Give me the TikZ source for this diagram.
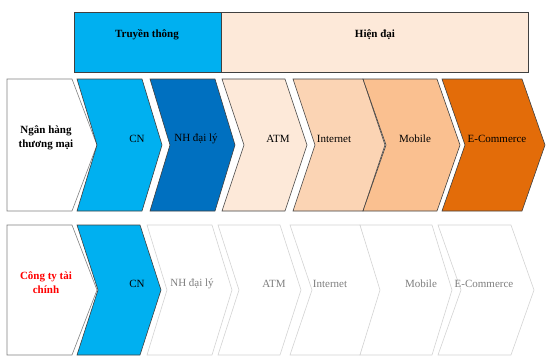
\documentclass[tikz,border=0pt]{standalone}
\usepackage{fontspec}
\setmainfont{Liberation Serif}
\definecolor{cyanb}{HTML}{00B0F0}
\definecolor{darkb}{HTML}{0070C0}
\definecolor{peach1}{HTML}{FDE9D9}
\definecolor{peach2}{HTML}{FBD4B4}
\definecolor{peach3}{HTML}{FAC090}
\definecolor{orng}{HTML}{E36C09}
\definecolor{edge}{HTML}{404040}
\definecolor{lightedge}{HTML}{D4D4D4}
\definecolor{greytxt}{HTML}{7F7F7F}
\definecolor{redtxt}{HTML}{FF0000}
\newcommand\drawchev[6]{%
  \filldraw[#1] (#2,#5) -- (#3,#5) -- ({#3+#4},{(#5+#6)/2}) -- (#3,#6) -- (#2,#6) -- ({#2+#4},{(#5+#6)/2}) -- cycle;}
\newcommand\drawpent[6]{%
  \filldraw[#1] (#2,#5) -- (#3,#5) -- ({#3+#4},{(#5+#6)/2}) -- (#3,#6) -- (#2,#6) -- cycle;}
\tikzset{
  shp/.style={draw=edge, line width=0.6pt, line join=miter},
  lshp/.style={draw=lightedge, fill=white, line width=0.6pt},
  lbl/.style={font=\fontsize{11}{13}\selectfont, text=black, inner sep=0pt},
  glbl/.style={lbl, text=greytxt},
  blbl/.style={font=\fontsize{11}{14}\selectfont\bfseries, align=center, inner sep=0pt}
}
\begin{document}
\begin{tikzpicture}[x=1pt,y=-1pt]
\useasboundingbox[fill=white] (0,0) rectangle (550,364);
% header
\filldraw[shp, fill=cyanb] (74,12) rectangle (221,72);
\filldraw[shp, fill=peach1] (221,12) rectangle (528,72);
\node[blbl] (trad) at (147,35) {Truyền thông};
\node[blbl] (mod) at (375,35) {Hiện đại};
% row 1
\drawpent{shp, fill=white, draw=gray}{7}{72}{25}{79}{211}
\drawchev{shp, fill=cyanb}{77}{142}{20}{79}{211}
\drawchev{shp, fill=darkb}{150}{215}{20}{79}{211}
\drawchev{shp, fill=peach1}{222}{285}{22}{79}{211}
\drawchev{shp, fill=peach2}{293}{363}{22}{79}{211}
\drawchev{shp, fill=peach3}{363}{437}{23}{79}{211}
\drawchev{shp, fill=orng}{442}{522}{23}{79}{211}
\node[blbl] (bank) at (46,138) {Ngân hàng\\thương mại};
\node[lbl] (cn1) at (137,139) {CN};
\node[lbl] (nh1) at (196,139) {NH đại lý};
\node[lbl] (atm1) at (278,139) {ATM};
\node[lbl] (int1) at (334,139) {Internet};
\node[lbl] (mob1) at (415,139) {Mobile};
\node[lbl] (ec1) at (497,139) {E-Commerce};
% row 2
\drawpent{shp, fill=white, draw=gray}{7}{72}{25}{225}{355}
\drawchev{shp, fill=cyanb}{77}{140}{21}{225}{355}
\drawchev{lshp}{147}{212}{20}{225}{355}
\drawchev{lshp}{218}{280}{21}{225}{355}
\drawchev{lshp}{290}{360}{22}{225}{355}
\drawchev{lshp}{360}{432}{20}{225}{355}
\drawchev{lshp}{438}{511}{23}{225}{355}
\node[blbl, text=redtxt] (fin) at (46,283) {Công ty tài\\chính};
\node[lbl] (cn2) at (137,284) {CN};
\node[glbl] (nh2) at (192,284) {NH đại lý};
\node[glbl] (atm2) at (274,284) {ATM};
\node[glbl] (int2) at (330,284) {Internet};
\node[glbl] (mob2) at (421,284) {Mobile};
\node[glbl] (ec2) at (484,284) {E-Commerce};
\end{tikzpicture}
\end{document}
